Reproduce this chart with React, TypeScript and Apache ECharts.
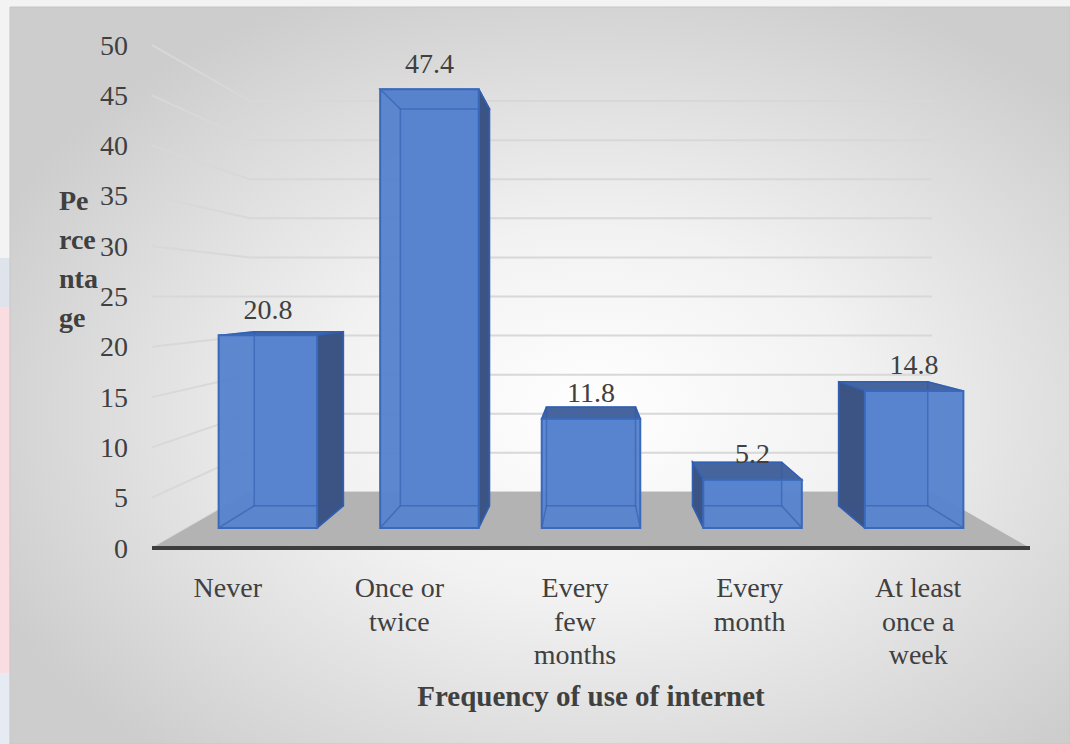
import React, { useEffect, useRef } from 'react';
import * as echarts from 'echarts';

// Survey answers: how often respondents use the internet (percent of respondents)
const categories = ['Never', 'Once or\ntwice', 'Every\nfew\nmonths', 'Every\nmonth', 'At least\nonce a\nweek'];
const percentages = [20.8, 47.4, 11.8, 5.2, 14.8];
const yTicks = [0, 5, 10, 15, 20, 25, 30, 35, 40, 45, 50];

const FONT = '"Liberation Serif", "Times New Roman", serif';
const TEXT = '#404040';

// Perspective scale factors (1 = front plane of the axes, smaller = deeper)
const DEPTH_FLOOR_BACK = 0.777;
const DEPTH_BAR_FRONT = 0.92;
const DEPTH_BAR_BACK = 0.832;
const BAR_HALF_WIDTH = 0.305; // fraction of one category band

const FRONT_FILL = '#5883cd';
const SIDE_FILL = '#3c5484';
const TOP_FILL = '#46659f';
const EDGE = '#3a68bb';
const HIDDEN_EDGE = 'rgba(40, 85, 170, 0.5)';

type Pt = number[];

const vanishingPoint = (cs: any): Pt => [cs.x + cs.width / 2, cs.y + cs.height / 2];
const project = (p: Pt, s: number, vp: Pt): Pt => [vp[0] + (p[0] - vp[0]) * s, vp[1] + (p[1] - vp[1]) * s];

// Gridlines: left wall segment from the front edge back to the rear wall, then across the rear wall
const renderGridLine = (params: any, api: any) => {
  const cs = params.coordSys;
  const vp = vanishingPoint(cs);
  const y = api.coord([0, api.value(1)])[1];
  const frontLeft = [cs.x, y];
  const backLeft = project(frontLeft, DEPTH_FLOOR_BACK, vp);
  const backRight = project([cs.x + cs.width, y], DEPTH_FLOOR_BACK, vp);
  return {
    type: 'polyline',
    silent: true,
    shape: { points: [frontLeft, backLeft, backRight] },
    style: { stroke: '#d8d8d8', lineWidth: 2, fill: null },
  };
};

// Grey floor with the dark front edge
const renderFloor = (params: any, api: any) => {
  const cs = params.coordSys;
  const vp = vanishingPoint(cs);
  const y0 = api.coord([0, 0])[1];
  const fl = [cs.x, y0];
  const fr = [cs.x + cs.width, y0];
  const br = project(fr, DEPTH_FLOOR_BACK, vp);
  const bl = project(fl, DEPTH_FLOOR_BACK, vp);
  return {
    type: 'group',
    silent: true,
    children: [
      { type: 'polygon', shape: { points: [fl, fr, br, bl] }, style: { fill: '#b3b3b3' } },
      { type: 'line', shape: { x1: fl[0], y1: y0, x2: fr[0], y2: y0 }, style: { stroke: '#3d3d3d', lineWidth: 4 } },
    ],
  };
};

// 3D box per category, projected toward the vanishing point
const renderBar = (params: any, api: any) => {
  const cs = params.coordSys;
  const vp = vanishingPoint(cs);
  const idx = api.value(0);
  const val = api.value(1);
  const base = api.coord([idx, 0]);
  const top = api.coord([idx, val]);
  const half = api.size([1, 0])[0] * BAR_HALF_WIDTH;
  const xl = base[0] - half;
  const xr = base[0] + half;
  const f = (x: number, y: number) => project([x, y], DEPTH_BAR_FRONT, vp);
  const b = (x: number, y: number) => project([x, y], DEPTH_BAR_BACK, vp);
  const FLt = f(xl, top[1]), FRt = f(xr, top[1]), FRb = f(xr, base[1]), FLb = f(xl, base[1]);
  const BLt = b(xl, top[1]), BRt = b(xr, top[1]), BRb = b(xr, base[1]), BLb = b(xl, base[1]);

  const children: any[] = [];
  children.push({ type: 'polygon', shape: { points: [BLt, BRt, BRb, BLb] }, style: { fill: FRONT_FILL } });
  children.push({ type: 'polygon', shape: { points: [FLt, FRt, BRt, BLt] }, style: { fill: TOP_FILL, stroke: EDGE, lineWidth: 1.5 } });
  if (base[0] < vp[0] - 1) {
    children.push({ type: 'polygon', shape: { points: [FRt, BRt, BRb, FRb] }, style: { fill: SIDE_FILL, stroke: EDGE, lineWidth: 1.5 } });
  } else if (base[0] > vp[0] + 1) {
    children.push({ type: 'polygon', shape: { points: [FLt, BLt, BLb, FLb] }, style: { fill: SIDE_FILL, stroke: EDGE, lineWidth: 1.5 } });
  }
  children.push({ type: 'polygon', shape: { points: [FLt, FRt, FRb, FLb] }, style: { fill: FRONT_FILL, opacity: 0.97 } });
  // edges seen through the translucent front face
  children.push({ type: 'polygon', shape: { points: [BLt, BRt, BRb, BLb] }, style: { fill: null, stroke: HIDDEN_EDGE, lineWidth: 1.5 } });
  [[FLt, BLt], [FRt, BRt], [FLb, BLb], [FRb, BRb]].forEach((seg) => {
    children.push({ type: 'line', shape: { x1: seg[0][0], y1: seg[0][1], x2: seg[1][0], y2: seg[1][1] }, style: { stroke: HIDDEN_EDGE, lineWidth: 1.5 } });
  });
  children.push({ type: 'polygon', shape: { points: [FLt, FRt, FRb, FLb] }, style: { fill: null, stroke: EDGE, lineWidth: 2 } });
  children.push({
    type: 'text',
    style: {
      text: String(val),
      x: (FLt[0] + FRt[0]) / 2,
      y: FLt[1] - 26,
      align: 'center',
      verticalAlign: 'middle',
      fontSize: 28,
      fontFamily: FONT,
      fill: TEXT,
    },
  });
  return { type: 'group', children };
};

// Small per-label horizontal nudges of the category captions
const labelShift = [24, 32, 32, 34, 48];
const richLabels: Record<string, any> = {};
labelShift.forEach((p, i) => {
  richLabels['c' + i] = { fontSize: 28, fontFamily: FONT, color: TEXT, lineHeight: 33.5, padding: [0, p, 0, 0] };
});

export default function App() {
  const ref = useRef<HTMLDivElement>(null);

  useEffect(() => {
    if (!ref.current) return;
    const chart = echarts.init(ref.current, null, { renderer: 'svg' });
    chart.setOption({
      animation: false,
      backgroundColor: '#ffffff',
      graphic: [
        { type: 'rect', z: -10, shape: { x: 0, y: 0, width: 1070, height: 744 }, style: { fill: '#f3f3f3' } },
        { type: 'rect', z: -10, shape: { x: 0, y: 258, width: 10, height: 49 }, style: { fill: '#dfe3ec' } },
        { type: 'rect', z: -10, shape: { x: 0, y: 307, width: 10, height: 366 }, style: { fill: '#f9dde0' } },
        { type: 'rect', z: -10, shape: { x: 0, y: 673, width: 10, height: 71 }, style: { fill: '#e6eaf3' } },
        {
          type: 'rect',
          z: -9,
          shape: { x: 10, y: 7, width: 1060, height: 737 },
          style: {
            fill: {
              type: 'radial',
              x: 0.55,
              y: 0.55,
              r: 0.62,
              colorStops: [
                { offset: 0, color: '#ffffff' },
                { offset: 0.4, color: '#f2f2f2' },
                { offset: 1, color: '#cdcdcd' },
              ],
            },
            stroke: '#c6c6c6',
            lineWidth: 1,
          },
        },
        {
          type: 'text',
          left: 59,
          top: 181,
          style: { text: 'Pe\nrce\nnta\nge', font: `bold 28px ${FONT}`, fill: TEXT, lineHeight: 39 },
        },
      ],
      grid: { left: 152, right: 40, top: 45, bottom: 196 },
      xAxis: {
        type: 'category',
        data: categories,
        axisLine: { show: false },
        axisTick: { show: false },
        splitLine: { show: false },
        axisLabel: {
          interval: 0,
          margin: 23,
          fontSize: 28,
          fontFamily: FONT,
          color: TEXT,
          lineHeight: 33.5,
          formatter: (v: string, i: number) => `{c${i}|${v}}`,
          rich: richLabels,
        },
        name: 'Frequency of use of internet',
        nameLocation: 'middle',
        nameGap: 133,
        nameTextStyle: { fontFamily: FONT, fontSize: 29, fontWeight: 'bold', color: TEXT },
      },
      yAxis: {
        type: 'value',
        min: yTicks[0],
        max: yTicks[yTicks.length - 1],
        interval: 5,
        axisLine: { show: false },
        axisTick: { show: false },
        splitLine: { show: false },
        axisLabel: { margin: 24, fontSize: 28, fontFamily: FONT, color: TEXT, padding: [6, 0, 0, 0] },
      },
      series: [
        {
          type: 'custom',
          name: 'grid',
          z: 1,
          clip: false,
          silent: true,
          renderItem: renderGridLine,
          data: yTicks.map((t) => [0, t]),
        },
        {
          type: 'custom',
          name: 'floor',
          z: 2,
          clip: false,
          silent: true,
          renderItem: renderFloor,
          data: [[0, 0]],
        },
        {
          type: 'custom',
          name: 'Percentage',
          z: 3,
          clip: false,
          renderItem: renderBar,
          data: percentages.map((v, i) => [i, v]),
        },
      ],
    });
    return () => chart.dispose();
  }, []);

  return <div ref={ref} style={{ position: 'fixed', left: 0, top: 0, width: 1070, height: 744 }} />;
}
